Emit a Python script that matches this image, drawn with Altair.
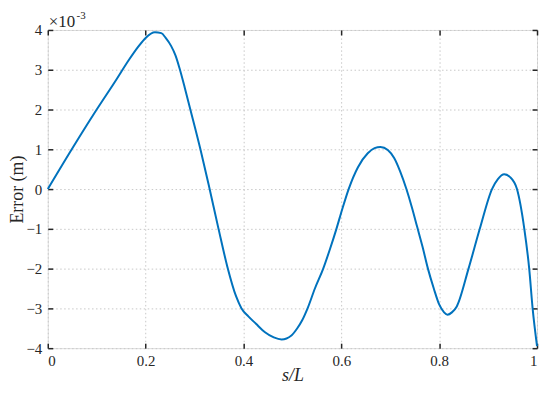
import altair as alt
import pandas as pd

# s/L positions and error values (x10^-3 m)
s_vals = [0.0, 0.05, 0.1, 0.14, 0.166, 0.185, 0.2, 0.219, 0.232, 0.241, 0.252,
          0.261, 0.269, 0.28, 0.291, 0.312, 0.329, 0.349, 0.367, 0.385, 0.396,
          0.41, 0.425, 0.444, 0.462, 0.478, 0.498, 0.51, 0.52, 0.531, 0.546,
          0.563, 0.577, 0.59, 0.602, 0.615, 0.634, 0.654, 0.668, 0.68, 0.695,
          0.708, 0.72, 0.733, 0.744, 0.755, 0.766, 0.777, 0.789, 0.8, 0.81,
          0.817, 0.826, 0.836, 0.86, 0.883, 0.908, 0.92, 0.933, 0.945, 0.959,
          0.974, 0.984, 0.991, 1.0]
err_vals = [0.0, 1.02, 2.0, 2.75, 3.25, 3.58, 3.8, 3.94, 3.92, 3.8, 3.6,
            3.36, 3.05, 2.55, 2.02, 1.0, 0.1, -1.0, -1.95, -2.7, -3.0,
            -3.2, -3.38, -3.6, -3.73, -3.78, -3.68, -3.5, -3.3, -3.0, -2.5,
            -2.0, -1.5, -1.0, -0.5, 0.0, 0.55, 0.9, 1.03, 1.06, 0.98,
            0.78, 0.45, 0.0, -0.45, -0.95, -1.45, -2.0, -2.5, -2.9, -3.1,
            -3.16, -3.1, -2.95, -2.0, -1.0, 0.0, 0.25, 0.37, 0.3, 0.0,
            -1.0, -2.0, -3.0, -3.95]

x_ticks = [0, 0.2, 0.4, 0.6, 0.8, 1]
y_ticks = [-4, -3, -2, -1, 0, 1, 2, 3, 4]

df = pd.DataFrame({"s": s_vals, "err": err_vals})

FONT = "Liberation Serif"
TXT = "#262626"
xs = alt.Scale(domain=[0, 1], nice=False, zero=False)
ys = alt.Scale(domain=[-4, 4], nice=False, zero=False)

base = alt.Chart(df)

main = base.mark_line(color="#0072BD", strokeWidth=2, interpolate="monotone").encode(
    x=alt.X("s:Q", scale=xs, axis=alt.Axis(
        orient="bottom", values=x_ticks, format="~g", title="s/L",
        grid=True, gridColor="#c8c8c8", gridDash=[1.5, 2.5], gridWidth=1,
        ticks=False, domain=False, labelPadding=5,
        labelFont=FONT, labelFontSize=15, labelColor=TXT,
        titleFont=FONT, titleFontSize=18, titleFontStyle="italic",
        titleFontWeight="normal", titleColor=TXT,
        titleX=246, titleY=33, titleAlign="center", titleBaseline="alphabetic")),
    y=alt.Y("err:Q", scale=ys, axis=alt.Axis(
        orient="left", values=y_ticks, format="d", title="Error (m)",
        grid=True, gridColor="#c8c8c8", gridDash=[1.5, 2.5], gridWidth=1,
        ticks=False, domain=False, labelPadding=6,
        labelFont=FONT, labelFontSize=15, labelColor=TXT,
        titleFont=FONT, titleFontSize=18, titleFontWeight="normal",
        titleColor=TXT, titleAngle=270, titleX=-30, titleY=160,
        titleAlign="center", titleBaseline="middle")),
)

def tick_axis(orient, values):
    return alt.Axis(orient=orient, values=values, labels=False, title="",
                    grid=False, domain=False, ticks=True, tickSize=5,
                    offset=-5, tickColor=TXT, tickWidth=1.5)

ticks_bl = base.mark_line(opacity=0).encode(
    x=alt.X("s:Q", scale=xs, axis=tick_axis("bottom", x_ticks)),
    y=alt.Y("err:Q", scale=ys, axis=tick_axis("left", y_ticks)),
)
ticks_tr = base.mark_line(opacity=0).encode(
    x=alt.X("s:Q", scale=xs, axis=tick_axis("top", x_ticks)),
    y=alt.Y("err:Q", scale=ys, axis=tick_axis("right", y_ticks)),
)

exp_base = alt.Chart(pd.DataFrame({"t": ["×10"]})).mark_text(
    font=FONT, fontSize=17, align="left", baseline="alphabetic", color=TXT
).encode(text="t:N", x=alt.value(1), y=alt.value(-3))
exp_sup = alt.Chart(pd.DataFrame({"t": ["-3"]})).mark_text(
    font=FONT, fontSize=11, align="left", baseline="alphabetic", color=TXT
).encode(text="t:N", x=alt.value(29), y=alt.value(-11))

chart = alt.layer(main, ticks_bl, ticks_tr, exp_base, exp_sup).resolve_axis(
    x="independent", y="independent"
).properties(
    width=492, height=320,
    autosize=alt.AutoSizeParams(type="none"),
    padding={"left": 40, "top": 21, "right": 5, "bottom": 45},
).configure_view(stroke="#262626", strokeWidth=1.5).configure(background="white")

chart.save("out.html", embed_options={"renderer": "svg", "actions": False})
